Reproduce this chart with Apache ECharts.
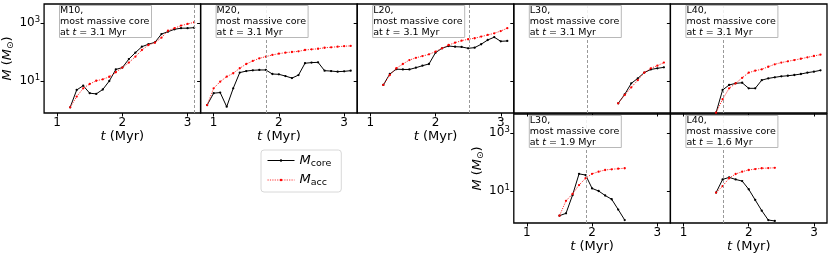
<!DOCTYPE html>
<html>
<head>
<meta charset="utf-8">
<script src="https://cdn.jsdelivr.net/npm/echarts@6/dist/echarts.min.js"></script>
<style>
html,body{margin:0;padding:0;background:#fff;}
#chart{width:830px;height:257px;}
</style>
</head>
<body>
<div id="chart"></div>
<script>
// ---- data ----
const M10_t    = [1.2,1.3,1.4,1.5,1.6,1.7,1.8,1.9,2.0,2.1,2.2,2.3,2.4,2.5,2.6,2.7,2.8,2.9,3.0,3.1];
const M10_core = [1.24,4.9,6.9,3.8,3.6,5.1,10,25,29,57,95,152,185,215,415,500,605,660,660,690];
const M10_acc  = [1.24,2.9,5.6,7.9,10.2,11.4,14,20,29,43,69,117,174,209,310,540,660,810,925,1050];

const M20_t    = [0.9,1.0,1.1,1.2,1.3,1.4,1.5,1.6,1.7,1.8,1.9,2.0,2.1,2.2,2.3,2.4,2.5,2.6,2.7,2.8,2.9,3.0,3.1];
const M20_core = [1.48,3.8,4.0,1.3,5.6,19.5,22,23.4,24,24,17.4,17,14.8,12.6,16,41,43,44,22.7,22,21,21.5,22.7];
const M20_acc  = [1.48,5.6,9.5,14.1,18.5,27.5,38.6,49,60.5,69,79,87.5,95,100,105,117,123,129,140,145,152,158,162];

const L20_t    = [1.2,1.3,1.4,1.5,1.6,1.7,1.8,1.9,2.0,2.1,2.2,2.3,2.4,2.5,2.6,2.7,2.8,2.9,3.0,3.1];
const L20_core = [7.3,17.4,25.6,25,25,28.7,33.7,38.6,95,134,161,152,149,134,141,185,259,323,233,240];
const L20_acc  = [7.3,16.1,27.5,38.6,52.7,63,72,83,103,134,174,209,245,275,297,339,387,440,527,660];

const L30a_t    = [2.4,2.5,2.6,2.7,2.8,2.9,3.0,3.1];
const L30a_core = [1.70,3.47,8.3,12.3,19.5,25,27.4,29.5];
const L30a_acc  = [1.70,3.3,6.0,10.7,19.5,27.4,33.7,43];

const L40a_t    = [1.5,1.6,1.7,1.8,1.9,2.0,2.1,2.2,2.3,2.4,2.5,2.6,2.7,2.8,2.9,3.0,3.1];
const L40a_core = [0.81,4.9,7.3,8.3,8.7,5.6,5.6,10.7,12.3,13.4,14.5,15.2,16.1,17.4,19.4,21,23.3];
const L40a_acc  = [0.81,2.35,5.6,8.3,12.9,19.4,22.7,25.3,31,37.7,43,47.8,52.7,58.4,65.4,72.8,81];

const L30b_t    = [1.5,1.6,1.7,1.8,1.9,2.0,2.1,2.2,2.3,2.4,2.5];
const L30b_core = [1.41,1.7,7.2,39,35.5,12.3,10,7.0,5.2,2.3,1.0];
const L30b_acc  = [1.41,4.6,7.9,16,27.5,39,46.4,53,56,58.7,60.8];

const L40b_t    = [1.5,1.6,1.7,1.8,1.9,2.0,2.1,2.2,2.3,2.4];
const L40b_core = [8.8,25,29.5,25,22,11.5,4.9,2.1,1.0,0.93];
const L40b_acc  = [8.8,14.8,27.5,38.6,46.4,53,57,60.8,61.6,63];

const panelNames = ['M10','M20','L20','L30','L40','L30','L40'];
const panelTimes = ['3.1','3.1','3.1','3.1','3.1','1.9','1.6'];
const markTimes  = [3.1,1.81,2.51,1.92,1.61,1.91,1.61];
const xTicks = [1,2,3];
const yTicks = [10,1000];
const xRange = [0.8,3.2];
const yRange = [0.79,4500];

const panelT    = [M10_t,M20_t,L20_t,L30a_t,L40a_t,L30b_t,L40b_t];
const panelCore = [M10_core,M20_core,L20_core,L30a_core,L40a_core,L30b_core,L40b_core];
const panelAcc  = [M10_acc,M20_acc,L20_acc,L30a_acc,L40a_acc,L30b_acc,L40b_acc];

// ---- layout ----
const FONT = 'DejaVu Sans';
const W = 156.6, H = 109;
const layout = [
  {left:44,    top:4,   xl:true, xn:true, yl:true, yn:true},
  {left:200.6, top:4,   xl:true, xn:true},
  {left:357.2, top:4,   xl:true, xn:true},
  {left:513.8, top:4},
  {left:670.4, top:4},
  {left:513.8, top:114, xl:true, xn:true, yl:true, yn:true},
  {left:670.4, top:114, xl:true, xn:true}
];

const grids=[], xAxes=[], yAxes=[], series=[], titles=[];
const supRich = {
  b:{fontFamily:FONT,fontSize:12,color:'#000',lineHeight:16},
  sup:{fontFamily:FONT,fontSize:8.5,color:'#000',verticalAlign:'top',lineHeight:16}
};
layout.forEach((L,i)=>{
  grids.push({left:L.left, top:L.top, width:W, height:H, show:true,
    borderColor:'#000', borderWidth:1.3, backgroundColor:'transparent', containLabel:false});
  xAxes.push({type:'value', gridIndex:i, min:xRange[0], max:xRange[1],
    axisLine:{show:false}, splitLine:{show:false},
    axisTick:{show:true, inside:false, length:3.5, customValues:xTicks, lineStyle:{color:'#000',width:1}},
    axisLabel:{show:!!L.xl, customValues:xTicks, margin:4, fontFamily:FONT, fontSize:12, color:'#000'},
    name: L.xn ? '{i|t}{n| (Myr)}' : '', nameLocation:'middle', nameGap:15,
    nameTextStyle:{rich:{i:{fontFamily:FONT,fontSize:13,fontStyle:'italic',color:'#000'},
                         n:{fontFamily:FONT,fontSize:13,color:'#000'}}}
  });
  yAxes.push({type:'log', logBase:10, gridIndex:i, min:yRange[0], max:yRange[1],
    axisLine:{show:false}, splitLine:{show:false}, minorTick:{show:false},
    axisTick:{show:true, inside:false, length:3.5, customValues:yTicks, lineStyle:{color:'#000',width:1}},
    axisLabel:{show:!!L.yl, customValues:yTicks, margin:4,
      formatter:v=>'{b|10}{sup|'+Math.round(Math.log10(v))+'}', rich:supRich},
    name: L.yn ? '{i|M}{n| (}{i|M}{s|⊙}{n|)}' : '', nameLocation:'middle', nameGap:27, nameRotate:90,
    nameTextStyle:{rich:{
      i:{fontFamily:FONT,fontSize:13,fontStyle:'italic',color:'#000',lineHeight:16},
      n:{fontFamily:FONT,fontSize:13,color:'#000',lineHeight:16},
      s:{fontFamily:FONT,fontSize:9,color:'#000',verticalAlign:'bottom',lineHeight:14}}}
  });
  const t = panelT[i];
  series.push({type:'line', name:'Mcore', xAxisIndex:i, yAxisIndex:i,
    data:t.map((x,k)=>[x,panelCore[i][k]]),
    color:'#000', lineStyle:{color:'#000',width:1}, symbol:'circle', symbolSize:2.3,
    itemStyle:{color:'#000'}, animation:false, z:3,
    markLine:{silent:true, symbol:['none','none'], label:{show:false},
      lineStyle:{color:'#999',type:[3,2],width:1}, data:[{xAxis:markTimes[i]}]}
  });
  series.push({type:'line', name:'Macc', xAxisIndex:i, yAxisIndex:i,
    data:t.map((x,k)=>[x,panelAcc[i][k]]),
    color:'#ff0000', lineStyle:{color:'#ff3030',width:1,type:[1.2,1.2]}, symbol:'circle', symbolSize:2.3,
    itemStyle:{color:'#ff0000'}, animation:false, z:4
  });
  titles.push({
    text:'{n|'+panelNames[i]+',}\n{n|most massive core}\n{n|at }{i|t}{n| = '+panelTimes[i]+' Myr}',
    left:L.left+15, top:L.top+1,
    padding:[0,2,0,1], backgroundColor:'rgba(255,255,255,0.85)',
    borderColor:'#b8b8b8', borderWidth:1,
    textStyle:{fontWeight:'normal', rich:{
      n:{fontFamily:FONT,fontSize:9.5,fontWeight:'normal',color:'#000',lineHeight:11},
      i:{fontFamily:FONT,fontSize:9.5,fontWeight:'normal',fontStyle:'italic',color:'#000',lineHeight:11}}}
  });
});

const chart = echarts.init(document.getElementById('chart'), null, {renderer:'canvas'});
chart.setOption({
  animation:false,
  backgroundColor:'#fff',
  title:titles,
  grid:grids, xAxis:xAxes, yAxis:yAxes, series:series,
  legend:{
    data:['Mcore','Macc'], orient:'vertical', left:261, top:150,
    itemWidth:27, itemHeight:3, itemGap:5,
    lineStyle:{width:1},
    padding:[4,10,4,6], borderColor:'#d8d8d8', borderWidth:1, borderRadius:3, backgroundColor:'#fff',
    formatter:n=> n==='Mcore' ? '{i|M}{s|core}' : '{i|M}{s|acc}',
    textStyle:{rich:{
      i:{fontFamily:FONT,fontSize:13,fontStyle:'italic',color:'#000',lineHeight:16},
      s:{fontFamily:FONT,fontSize:9.5,color:'#000',verticalAlign:'bottom',lineHeight:13}}}
  }
});
</script>
</body>
</html>
